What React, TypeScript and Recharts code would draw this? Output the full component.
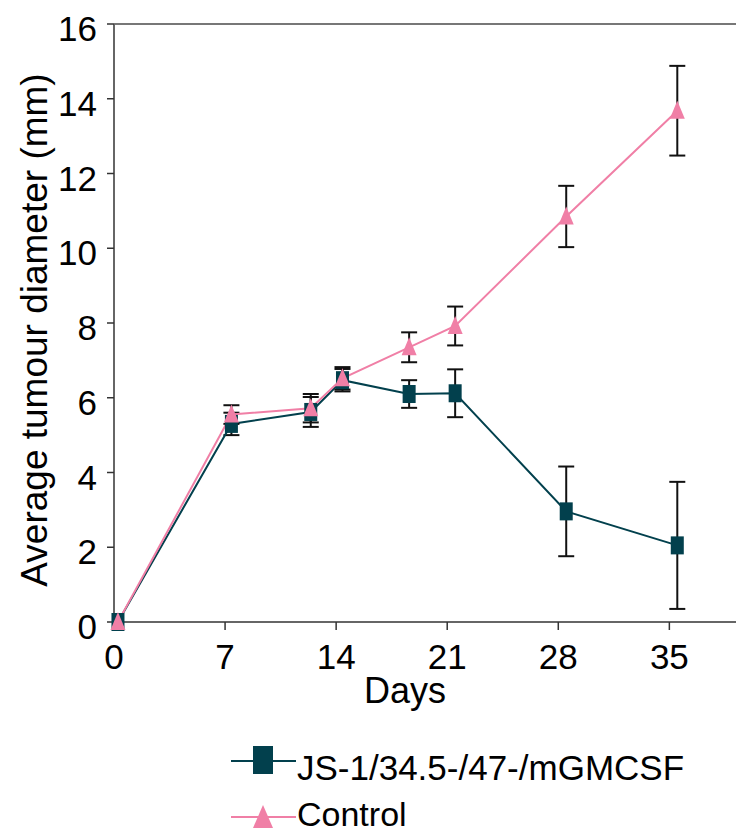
import React from "react";
import {
  LineChart,
  Line,
  XAxis,
  YAxis,
  ErrorBar,
  ReferenceLine,
  Label,
} from "recharts";

const days = [0.25, 7.4, 12.4, 14.4, 18.6, 21.5, 28.5, 35.5];
const jsMean = [0, 5.3, 5.62, 6.47, 6.1, 6.12, 2.96, 2.05];
const jsErr = [null, 0.3, 0.4, 0.3, 0.37, 0.64, 1.2, 1.7];
const ctrlMean = [0, 5.55, 5.72, 6.52, 7.35, 7.92, 10.85, 13.68];
const ctrlErr = [null, 0.25, 0.38, 0.3, 0.4, 0.52, 0.82, 1.2];
const xTicks = [0, 7, 14, 21, 28, 35];
const yTicks = [0, 2, 4, 6, 8, 10, 12, 14, 16];

const data = days.map((d, i) => ({
  day: d,
  js: jsMean[i],
  jsErr: jsErr[i],
  ctrl: ctrlMean[i],
  ctrlErr: ctrlErr[i],
}));

const FONT = "'Liberation Sans', Arial, sans-serif";
const TEAL = "#02404d";
const PINK = "#f07fa6";

const SquareDot = (props: any) => {
  const { cx, cy, index } = props;
  if (cx == null || cy == null) return null;
  return <rect key={`sq-${index}`} x={cx - 6.5} y={cy - 9} width={13} height={18} fill={TEAL} />;
};

const TriangleDot = (props: any) => {
  const { cx, cy, index } = props;
  if (cx == null || cy == null) return null;
  return (
    <polygon
      key={`tr-${index}`}
      points={`${cx},${cy - 10} ${cx - 7.5},${cy + 8} ${cx + 7.5},${cy + 8}`}
      fill={PINK}
    />
  );
};

const YTick = ({ x, y, payload }: any) => (
  <text x={x} y={y + 17} textAnchor="end" fontSize={35} fontFamily={FONT} fill="#000">
    {payload.value}
  </text>
);

const XTick = ({ x, y, payload }: any) => (
  <text x={x} y={y + 37} textAnchor="middle" fontSize={35} fontFamily={FONT} fill="#000">
    {payload.value}
  </text>
);

export default function App() {
  return (
    <div style={{ position: "absolute", left: 0, top: 0, width: 736, height: 835 }}>
      <LineChart
        width={736}
        height={835}
        data={data}
        margin={{ top: 24, right: 0, left: 0, bottom: 0 }}
      >
        <XAxis
          dataKey="day"
          type="number"
          domain={[0, 39.2]}
          ticks={xTicks}
          height={213}
          tickSize={8}
          tick={<XTick />}
          axisLine={{ stroke: "#666", strokeWidth: 2 }}
          tickLine={{ stroke: "#333", strokeWidth: 1.5 }}
        >
          <Label
            content={({ viewBox }: any) => (
              <text
                x={405}
                y={viewBox.y + 81}
                textAnchor="middle"
                fontSize={36}
                fontFamily={FONT}
                fill="#000"
              >
                Days
              </text>
            )}
          />
        </XAxis>
        <YAxis
          type="number"
          domain={[0, 16]}
          ticks={yTicks}
          width={114}
          tickSize={7}
          tickMargin={10}
          tick={<YTick />}
          axisLine={{ stroke: "#666", strokeWidth: 2 }}
          tickLine={{ stroke: "#333", strokeWidth: 1.5 }}
        >
          <Label
            content={() => (
              <text
                x={47}
                y={330}
                transform="rotate(-90, 47, 330)"
                textAnchor="middle"
                fontSize={37}
                fontFamily={FONT}
                fill="#000"
              >
                Average tumour diameter (mm)
              </text>
            )}
          />
        </YAxis>
        <ReferenceLine y={16} stroke="#777" strokeWidth={2} />
        <Line
          dataKey="js"
          stroke={TEAL}
          strokeWidth={2}
          dot={SquareDot}
          activeDot={false}
          isAnimationActive={false}
        >
          <ErrorBar dataKey="jsErr" direction="y" width={8} stroke="#111" strokeWidth={2} />
        </Line>
        <Line
          dataKey="ctrl"
          stroke={PINK}
          strokeWidth={2}
          dot={TriangleDot}
          activeDot={false}
          isAnimationActive={false}
        >
          <ErrorBar dataKey="ctrlErr" direction="y" width={8} stroke="#111" strokeWidth={2} />
        </Line>
      </LineChart>
      <svg
        width={536}
        height={105}
        style={{ position: "absolute", left: 200, top: 730 }}
      >
        <line x1={31} x2={96} y1={31} y2={31} stroke={TEAL} strokeWidth={2} />
        <rect x={53} y={16} width={20} height={28} fill={TEAL} />
        <text x={97} y={50} fontSize={35} fontFamily={FONT} fill="#000">
          JS-1/34.5-/47-/mGMCSF
        </text>
        <line x1={31} x2={96} y1={87} y2={87} stroke={PINK} strokeWidth={2} />
        <polygon points="63,75 53,98 73,98" fill={PINK} />
        <text x={97} y={96} fontSize={34} fontFamily={FONT} fill="#000">
          Control
        </text>
      </svg>
    </div>
  );
}
